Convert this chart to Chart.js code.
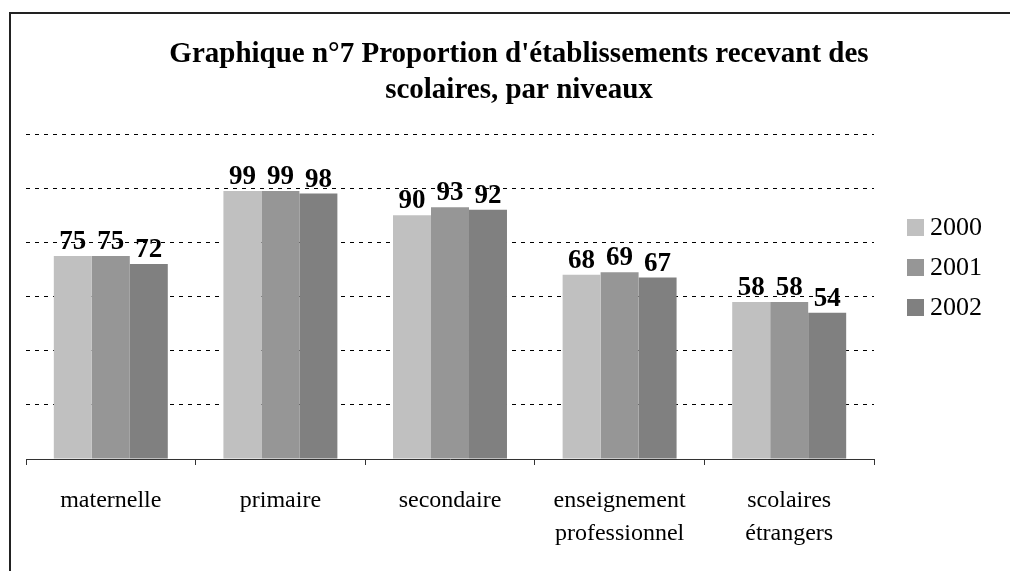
<!DOCTYPE html>
<html>
<head>
<meta charset="utf-8">
<script src="https://cdn.jsdelivr.net/npm/chart.js@4"></script>
<style>
  html, body { margin: 0; padding: 0; background: #fff; }
  #wrap { width: 1010px; height: 571px; position: relative; }
</style>
</head>
<body>
<div id="wrap"><canvas id="chart"></canvas></div>
<script>
// --- data ---
const categories = ['maternelle', 'primaire', 'secondaire', ['enseignement', 'professionnel'], ['scolaires', 'étrangers']];
const years = ['2000', '2001', '2002'];
const values2000 = [75, 99, 90, 68, 58];
const values2001 = [75, 99, 93, 69, 58];
const values2002 = [72, 98, 92, 67, 54];
const yearColors = ['#c0c0c0', '#969696', '#808080'];
const titleLines = ["Graphique n°7 Proportion d'établissements recevant des", 'scolaires, par niveaux'];

const serif = "'Liberation Serif', 'Times New Roman', serif";

// title, frame, value labels and legend drawn on the canvas
const decorations = {
  id: 'decorations',
  afterDraw(chart) {
    const ctx = chart.ctx;
    ctx.save();

    // frame (only top and left edges show)
    ctx.strokeStyle = '#222';
    ctx.lineWidth = 2;
    ctx.beginPath();
    ctx.moveTo(10, 571);
    ctx.lineTo(10, 13);
    ctx.lineTo(1010, 13);
    ctx.stroke();

    // title
    ctx.fillStyle = '#000';
    ctx.font = 'bold 29px ' + serif;
    ctx.textAlign = 'center';
    ctx.textBaseline = 'alphabetic';
    titleLines.forEach((t, i) => ctx.fillText(t, 519, 62 + i * 36));

    // value labels above bars
    ctx.font = 'bold 27px ' + serif;
    chart.data.datasets.forEach((ds, di) => {
      chart.getDatasetMeta(di).data.forEach((bar, i) => {
        ctx.fillText(ds.data[i], bar.x, bar.y - 7);
      });
    });

    // legend
    ctx.font = '26px ' + serif;
    ctx.textAlign = 'left';
    ctx.textBaseline = 'middle';
    chart.data.datasets.forEach((ds, di) => {
      const cy = 227 + di * 40;
      ctx.fillStyle = ds.backgroundColor;
      ctx.fillRect(907, cy - 8, 17, 17);
      ctx.fillStyle = '#000';
      ctx.fillText(ds.label, 930, cy + 1);
    });

    ctx.restore();
  }
};

new Chart(document.getElementById('chart'), {
  type: 'bar',
  data: {
    labels: categories,
    datasets: [
      { label: years[0], data: values2000, backgroundColor: yearColors[0] },
      { label: years[1], data: values2001, backgroundColor: yearColors[1] },
      { label: years[2], data: values2002, backgroundColor: yearColors[2] },
    ],
  },
  options: {
    responsive: true,
    maintainAspectRatio: false,
    animation: false,
    datasets: {
      bar: { categoryPercentage: 0.672, barPercentage: 1.0, borderWidth: 0 },
    },
    layout: { padding: { top: 134, left: 26, right: 136, bottom: 2 } },
    plugins: {
      legend: { display: false },
      title: { display: false },
      tooltip: { enabled: false },
    },
    scales: {
      x: {
        grid: {
          offset: true,
          drawOnChartArea: false,
          drawTicks: true,
          tickLength: 6,
          color: '#333',
        },
        border: { display: true, color: '#333', width: 1 },
        ticks: {
          color: '#000',
          padding: 19,
          maxRotation: 0,
          autoSkip: false,
          font: { family: serif, size: 24, lineHeight: 1.375 },
        },
      },
      y: {
        min: 0,
        max: 120,
        ticks: { display: false, stepSize: 20 },
        border: { display: false, dash: [4, 5] },
        grid: {
          drawTicks: false,
          color: (c) => (c.tick && c.tick.value === 0 ? 'rgba(0,0,0,0)' : '#000'),
          lineWidth: 1,
        },
      },
    },
  },
  plugins: [decorations],
});
</script>
</body>
</html>
